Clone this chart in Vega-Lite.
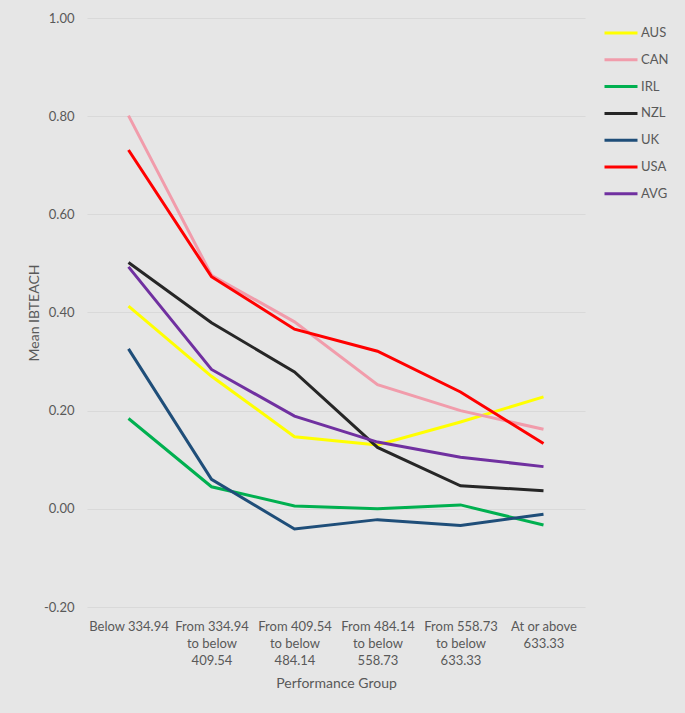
{
  "$schema": "https://vega.github.io/schema/vega-lite/v6.json",
  "autosize": {"type": "none"},
  "width": 498,
  "height": 589,
  "padding": {"left": 87, "top": 18, "right": 100, "bottom": 106},
  "background": "#E6E6E6",
  "config": {
    "font": "Lato",
    "view": {"stroke": null},
    "axis": {"labelColor": "#595959", "titleColor": "#595959", "labelFont": "Lato", "titleFont": "Lato", "titleFontWeight": "normal", "labelFontSize": 13, "titleFontSize": 14, "domain": false, "ticks": false},
    "legend": {"labelColor": "#595959", "labelFont": "Lato", "labelFontSize": 13}
  },
  "data": {
    "values": [
      {"country": "AUS", "group": "Below 334.94", "value": 0.413},
      {"country": "AUS", "group": "From 334.94 to below 409.54", "value": 0.270},
      {"country": "AUS", "group": "From 409.54 to below 484.14", "value": 0.147},
      {"country": "AUS", "group": "From 484.14 to below 558.73", "value": 0.130},
      {"country": "AUS", "group": "From 558.73 to below 633.33", "value": 0.177},
      {"country": "AUS", "group": "At or above 633.33", "value": 0.228},
      {"country": "CAN", "group": "Below 334.94", "value": 0.801},
      {"country": "CAN", "group": "From 334.94 to below 409.54", "value": 0.476},
      {"country": "CAN", "group": "From 409.54 to below 484.14", "value": 0.381},
      {"country": "CAN", "group": "From 484.14 to below 558.73", "value": 0.253},
      {"country": "CAN", "group": "From 558.73 to below 633.33", "value": 0.200},
      {"country": "CAN", "group": "At or above 633.33", "value": 0.162},
      {"country": "IRL", "group": "Below 334.94", "value": 0.184},
      {"country": "IRL", "group": "From 334.94 to below 409.54", "value": 0.045},
      {"country": "IRL", "group": "From 409.54 to below 484.14", "value": 0.006},
      {"country": "IRL", "group": "From 484.14 to below 558.73", "value": 0.000},
      {"country": "IRL", "group": "From 558.73 to below 633.33", "value": 0.008},
      {"country": "IRL", "group": "At or above 633.33", "value": -0.033},
      {"country": "NZL", "group": "Below 334.94", "value": 0.502},
      {"country": "NZL", "group": "From 334.94 to below 409.54", "value": 0.379},
      {"country": "NZL", "group": "From 409.54 to below 484.14", "value": 0.279},
      {"country": "NZL", "group": "From 484.14 to below 558.73", "value": 0.125},
      {"country": "NZL", "group": "From 558.73 to below 633.33", "value": 0.047},
      {"country": "NZL", "group": "At or above 633.33", "value": 0.037},
      {"country": "UK", "group": "Below 334.94", "value": 0.326},
      {"country": "UK", "group": "From 334.94 to below 409.54", "value": 0.060},
      {"country": "UK", "group": "From 409.54 to below 484.14", "value": -0.041},
      {"country": "UK", "group": "From 484.14 to below 558.73", "value": -0.022},
      {"country": "UK", "group": "From 558.73 to below 633.33", "value": -0.034},
      {"country": "UK", "group": "At or above 633.33", "value": -0.011},
      {"country": "USA", "group": "Below 334.94", "value": 0.731},
      {"country": "USA", "group": "From 334.94 to below 409.54", "value": 0.473},
      {"country": "USA", "group": "From 409.54 to below 484.14", "value": 0.366},
      {"country": "USA", "group": "From 484.14 to below 558.73", "value": 0.321},
      {"country": "USA", "group": "From 558.73 to below 633.33", "value": 0.238},
      {"country": "USA", "group": "At or above 633.33", "value": 0.133},
      {"country": "AVG", "group": "Below 334.94", "value": 0.493},
      {"country": "AVG", "group": "From 334.94 to below 409.54", "value": 0.284},
      {"country": "AVG", "group": "From 409.54 to below 484.14", "value": 0.189},
      {"country": "AVG", "group": "From 484.14 to below 558.73", "value": 0.136},
      {"country": "AVG", "group": "From 558.73 to below 633.33", "value": 0.105},
      {"country": "AVG", "group": "At or above 633.33", "value": 0.086}
    ]
  },
  "mark": {"type": "line", "strokeWidth": 3},
  "encoding": {
    "x": {
      "field": "group",
      "type": "nominal",
      "sort": null,
      "scale": {"type": "point", "padding": 0.5},
      "axis": {
        "title": "Performance Group",
        "labelAngle": 0,
        "labelPadding": 19,
        "labelLineHeight": 17,
        "labelBaseline": "middle",
        "titlePadding": 9,
        "grid": false,
        "labelExpr": "indexof(datum.value,'to below')>0 ? [slice(datum.value,0,11),'to below',slice(datum.value,21)] : (indexof(datum.value,'At or')==0 ? ['At or above','633.33'] : datum.value)"
      }
    },
    "y": {
      "field": "value",
      "type": "quantitative",
      "scale": {"domain": [-0.2, 1.0], "nice": false, "zero": false},
      "axis": {
        "title": "Mean IBTEACH",
        "values": [-0.2, 0, 0.2, 0.4, 0.6, 0.8, 1.0],
        "format": ".2f",
        "labelExpr": "replace(datum.label, '\u2212', '-')",
        "labelPadding": 13,
        "titlePadding": 2,
        "gridColor": "#D9D9D9",
        "gridWidth": 1
      }
    },
    "color": {
      "field": "country",
      "type": "nominal",
      "scale": {
        "domain": ["AUS", "CAN", "IRL", "NZL", "UK", "USA", "AVG"],
        "range": ["#FFFF00", "#F19CAB", "#00B050", "#262626", "#1F4E79", "#FF0000", "#7030A0"]
      },
      "legend": {
        "title": null,
        "orient": "none",
        "legendX": 516,
        "legendY": -3,
        "symbolType": "stroke",
        "symbolSize": 1089,
        "symbolStrokeWidth": 3,
        "labelOffset": 2,
        "rowPadding": 1.8
      }
    }
  }
}
